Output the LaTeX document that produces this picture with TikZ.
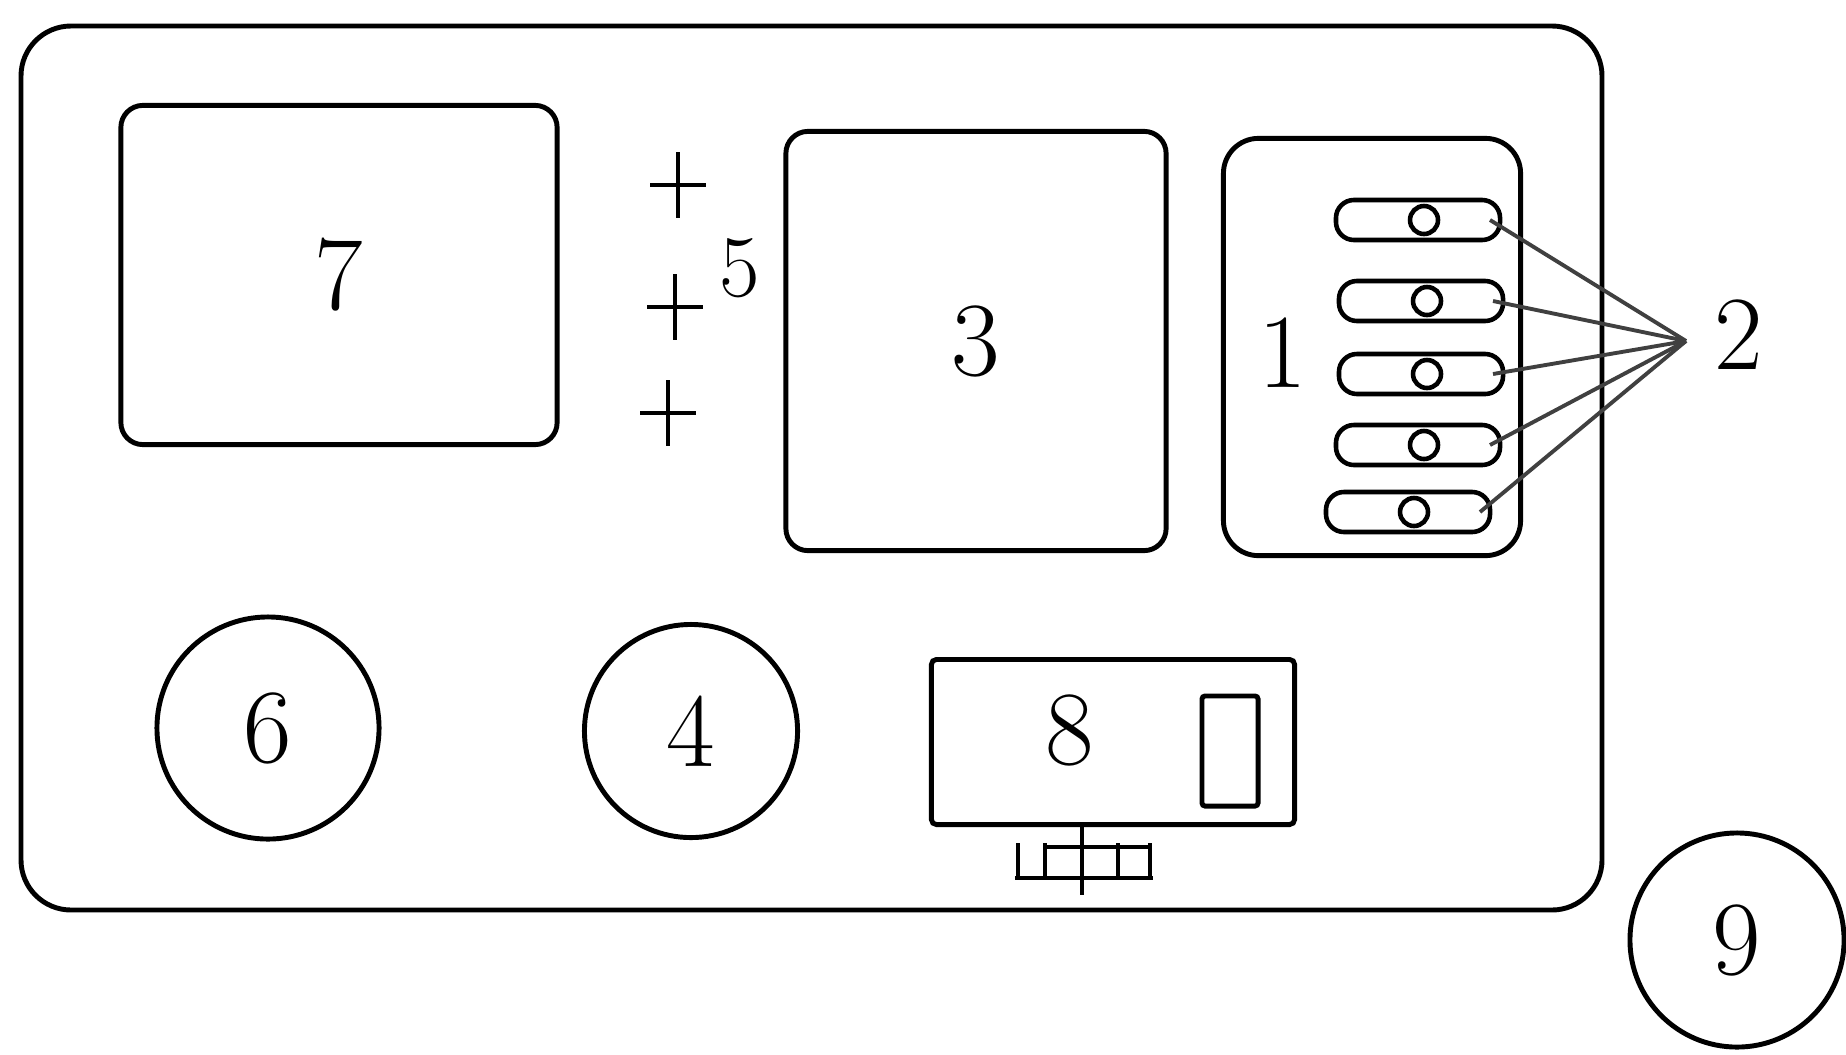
\documentclass[tikz,border=0pt]{standalone}
\usetikzlibrary{calc}
\tikzset{
  part/.style={draw,line width=1.4pt,rounded corners=0.22cm,inner sep=0pt},
  num/.style={font=\fontsize{30}{36}\selectfont},
  slot/.style={draw,line width=1.3pt,rounded corners=0.18cm,minimum width=1.64cm,minimum height=0.40cm,inner sep=0pt},
  dial/.style={draw,circle,line width=1.4pt,inner sep=0pt,font=\fontsize{30}{36}\selectfont},
  wire/.style={black!75,line width=1.1pt},
}

\begin{document}
\begin{tikzpicture}[x=0.01cm,y=-0.01cm,line width=1.4pt]
\useasboundingbox (0,0) rectangle (1846,1054);
% housing
\draw[rounded corners=0.5cm] (21,26) rectangle (1602,910);
% blocks
\node[part,num,minimum width=4.36cm,minimum height=3.39cm] (box7) at (339,275) {7};
\node[part,num,minimum width=3.80cm,minimum height=4.19cm] (box3) at (976,341) {3};
\node[part,rounded corners=0.35cm,minimum width=2.97cm,minimum height=4.17cm] (box1) at (1372,347) {};
\node[num] (lab1) at (1283,353) {1};
% slots of 1
\coordinate (hub) at (1686,341);
\foreach \i/\y/\dx in {1/220/0,2/301/3,3/374/3,4/445/0,5/512/-10} {
  \node[slot] (s\i) at (1418+\dx,\y) {};
  \draw[line width=1.3pt] (1424+\dx,\y) circle [radius=14];
  \coordinate (e\i) at (1490+\dx,\y);
  \draw[wire] (e\i) -- (hub);
}
\node[num,anchor=west] (lab2) at (1700,335) {2};
% marks 5
\foreach \x/\y in {678/185,675/307,668/413} {
  \draw (\x-28,\y) -- (\x+28,\y) (\x,\y-33) -- (\x,\y+33);
}
\node[font=\fontsize{25}{30}\selectfont] (lab5) at (740,268) {5};
% round parts
\node[dial,minimum size=2.22cm] (c6) at (268,728) {6};
\node[dial,minimum size=2.13cm] (c4) at (691,731) {4};
\node[dial,minimum size=2.14cm] (c9) at (1737,940) {9};
% block 8
\node[part,rounded corners=0.05cm,minimum width=3.63cm,minimum height=1.65cm] (box8) at (1113,742) {};
\node[part,rounded corners=0.03cm,minimum width=0.56cm,minimum height=1.10cm] (win8) at (1230,751) {};
\node[num] (lab8) at (1070,730) {8};
% clamp below 8
\draw[line width=1.1pt] (1015,878) -- (1153,878) (1045,847) -- (1150,847);
\foreach \x in {1018,1045,1118,1150} {
  \draw[line width=1.1pt] (\x,843) -- (\x,880);
}
\draw[line width=1.1pt] (box8.south -| 1082,0) -- (1082,895);
\end{tikzpicture}
\end{document}
